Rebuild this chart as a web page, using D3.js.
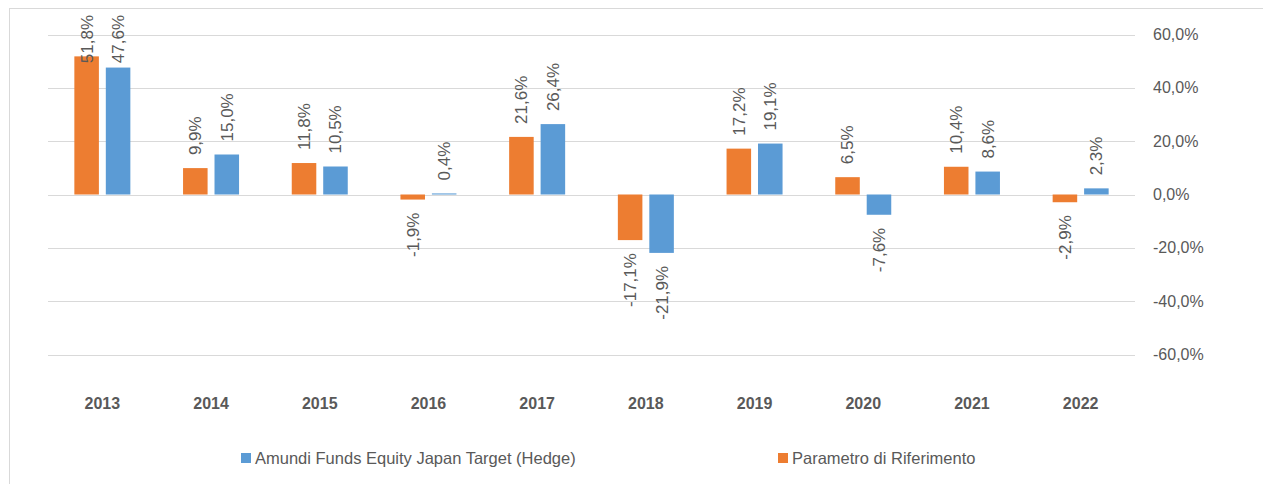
<!DOCTYPE html>
<html>
<head>
<meta charset="utf-8">
<script src="https://cdn.jsdelivr.net/npm/d3@7"></script>
<style>
  html, body { margin: 0; padding: 0; background: #fff; }
  svg { display: block; }
  text { font-family: "Liberation Sans", Arial, sans-serif; fill: #595959; }
</style>
</head>
<body>
<svg id="chart" width="1263" height="484"></svg>
<script>
const years = ["2013","2014","2015","2016","2017","2018","2019","2020","2021","2022"];
const seriesNames = ["Parametro di Riferimento", "Amundi Funds Equity Japan Target (Hedge)"];
const paramValues = [51.8, 9.9, 11.8, -1.9, 21.6, -17.1, 17.2, 6.5, 10.4, -2.9];
const fundValues  = [47.6, 15.0, 10.5, 0.4, 26.4, -21.9, 19.1, -7.6, 8.6, 2.3];
const yTicks = [60, 40, 20, 0, -20, -40, -60];
const legendOrder = ["Amundi Funds Equity Japan Target (Hedge)", "Parametro di Riferimento"];

const colors = {"Parametro di Riferimento": "#ED7D31", "Amundi Funds Equity Japan Target (Hedge)": "#5B9BD5"};

const svg = d3.select("#chart");
const locale = d3.formatLocale({decimal: ",", thousands: ".", grouping: [3], currency: ["", "€"], minus: "-"});
const fmt1 = locale.format(".1f");

// frame
svg.append("rect").attr("x", 9.5).attr("y", 8.5).attr("width", 1400).attr("height", 600)
  .attr("fill", "none").attr("stroke", "#D9D9D9").attr("stroke-width", 1);

const x0 = d3.scaleBand().domain(years).range([48, 1135]).padding(0);
const groupW = 56;
const x1 = d3.scaleBand().domain(seriesNames).range([0, groupW]).paddingInner(0.22).paddingOuter(0);
const y = d3.scaleLinear().domain([-60, 60]).range([354.5, 34.5]);

// grid
svg.append("g").selectAll("line").data(yTicks).join("line")
  .attr("x1", 48).attr("x2", 1135)
  .attr("y1", d => Math.round(y(d)) + 0.5).attr("y2", d => Math.round(y(d)) + 0.5)
  .attr("stroke", "#D9D9D9").attr("stroke-width", 1);

// right axis labels
const yAxis = d3.axisRight(y).tickValues(yTicks).tickSize(0).tickPadding(0)
  .tickFormat(d => fmt1(d) + "%");
const gy = svg.append("g").attr("transform", "translate(1153,0)").call(yAxis);
gy.select(".domain").remove();
gy.selectAll("text").attr("x", 0).style("font-size", "16px").style("font-family", "'Liberation Sans', Arial, sans-serif").attr("fill", "#595959");

// x axis labels
const xAxis = d3.axisBottom(x0).tickSize(0).tickPadding(0);
const gx = svg.append("g").attr("transform", "translate(0,398)").call(xAxis);
gx.select(".domain").remove();
gx.selectAll("text").style("font-size", "16px").style("font-weight", "bold")
  .style("font-family", "'Liberation Sans', Arial, sans-serif").attr("fill", "#595959");

const data = years.map((yr, i) => ({
  year: yr,
  vals: [
    {name: seriesNames[0], v: paramValues[i]},
    {name: seriesNames[1], v: fundValues[i]}
  ]
}));

const groups = svg.append("g").selectAll("g").data(data).join("g")
  .attr("transform", d => `translate(${x0(d.year) + x0.bandwidth()/2 - groupW/2},0)`);

groups.selectAll("rect").data(d => d.vals).join("rect")
  .attr("x", d => x1(d.name))
  .attr("width", x1.bandwidth())
  .attr("y", d => Math.min(y(d.v), y(0)))
  .attr("height", d => Math.abs(y(d.v) - y(0)))
  .attr("fill", d => colors[d.name]);

// data labels
groups.each(function(g) {
  const sel = d3.select(this);
  g.vals.forEach(d => {
    const cx = x1(d.name) + x1.bandwidth()/2;
    const t = sel.append("text")
      .style("font-size", "17px")
      .attr("dy", "0.35em")
      .text(fmt1(d.v) + "%");
    const len = t.node().getComputedTextLength();
    let ay;
    if (d.v >= 0) {
      ay = y(d.v) - 13;
      if (ay - len < 15) ay = 15 + len;
      t.attr("text-anchor", "start");
    } else {
      ay = y(d.v) + 13;
      t.attr("text-anchor", "end");
    }
    t.attr("transform", `translate(${cx},${ay}) rotate(-90)`);
  });
});

// legend
const legend = svg.append("g");
const legendX = [241, 778];
legendOrder.forEach((name, i) => {
  const lg = legend.append("g").attr("transform", `translate(${legendX[i]},0)`);
  lg.append("rect").attr("x", 0).attr("y", 453).attr("width", 10).attr("height", 10).attr("fill", colors[name]);
  lg.append("text").attr("x", 14).attr("y", 464).style("font-size", "16.5px").text(name);
});
</script>
</body>
</html>
